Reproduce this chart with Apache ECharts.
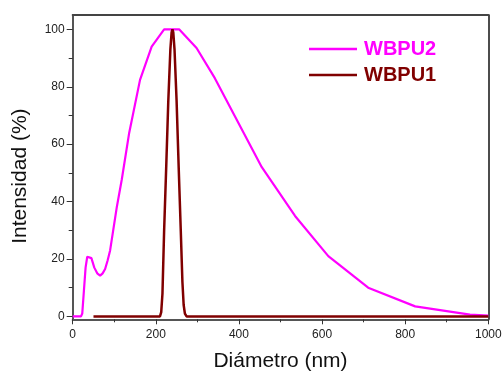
<!DOCTYPE html>
<html>
<head>
<meta charset="utf-8">
<script src="https://cdn.jsdelivr.net/npm/echarts@6/dist/echarts.min.js"></script>
<style>
  html, body { margin: 0; padding: 0; background: #fff; }
  #chart { width: 502px; height: 371px; }
</style>
</head>
<body>
<div id="chart"></div>
<script>
// Particle size distribution (intensity vs. diameter)
const diamWBPU2 = [0, 20, 23, 27, 31, 35, 39, 45, 52, 59, 66, 72, 78, 84, 90, 98, 106, 118, 136, 162, 190, 220, 256, 298, 342, 455, 535, 615, 711, 824, 956, 1000];
const intWBPU2  = [0, 0, 1, 9, 17, 20.8, 21.2, 20.3, 17, 15, 14.2, 15, 16.5, 19.5, 23, 30.5, 38, 47.6, 64, 82.4, 94, 100, 100, 93.5, 83, 52, 35, 21, 10, 3.5, 0.6, 0.3];

const diamWBPU1 = [50, 210, 213, 216, 220, 225, 230, 235, 238, 240, 242, 245, 250, 255, 260, 264, 267, 270, 274, 1000];
const intWBPU1  = [0, 0, 1.5, 8, 30, 52, 75, 93, 99, 100, 99, 93, 75, 52, 30, 12, 4, 1, 0, 0];

const xTicks = [0, 200, 400, 600, 800, 1000];
const yTicks = [0, 20, 40, 60, 80, 100];
const yMinorTicks = [10, 30, 50, 70, 90];

const COLOR_WBPU2 = '#ff00ff';
const COLOR_WBPU1 = '#800000';

const pairs = (xs, ys) => xs.map((x, i) => [x, ys[i]]);

const FONT = 'Liberation Sans, Arial, Helvetica, sans-serif';
const chart = echarts.init(document.getElementById('chart'), null, { renderer: 'canvas' });

chart.setOption({
  animation: false,
  backgroundColor: '#ffffff',
  grid: { left: 72.7, right: 13.7, top: 15, bottom: 51.7, containLabel: false, outerBoundsMode: 'none' },
  legend: {
    data: [
      { name: 'WBPU2', textStyle: { color: COLOR_WBPU2 } },
      { name: 'WBPU1', textStyle: { color: COLOR_WBPU1 } }
    ],
    orient: 'vertical',
    left: 309,
    top: 39,
    padding: 0,
    icon: 'rect',
    itemWidth: 48,
    itemHeight: 2.5,
    itemGap: 6,
    textStyle: { fontFamily: FONT, fontSize: 20, fontWeight: 'bold', lineHeight: 20, padding: [0, 0, 0, 2] },
    selectedMode: false
  },
  xAxis: [
    {
      type: 'value', min: 0, max: 1000, interval: 200,
      name: 'Diámetro (nm)', nameLocation: 'middle', nameGap: 31,
      nameTextStyle: { fontFamily: FONT, fontSize: 21, color: '#111' },
      axisLine: { show: true, onZero: false, lineStyle: { color: '#555', width: 2 } },
      axisTick: { show: true, length: 5, lineStyle: { color: '#333', width: 1 } },
      minorTick: { show: true, splitNumber: 2, length: 3, lineStyle: { color: '#333', width: 1 } },
      axisLabel: { fontFamily: FONT, fontSize: 12, color: '#222', margin: 9,
        customValues: xTicks, formatter: v => String(v) },
      splitLine: { show: false }
    },
    {
      type: 'value', min: 0, max: 1000, position: 'top',
      axisLine: { show: true, onZero: false, lineStyle: { color: '#444', width: 2 } },
      axisTick: { show: false }, axisLabel: { show: false }, splitLine: { show: false }
    }
  ],
  yAxis: [
    {
      type: 'value', min: -1, max: 105,
      name: 'Intensidad (%)', nameLocation: 'middle', nameGap: 42,
      // right padding nudges the rotated title a little lower along the axis
      nameTextStyle: { fontFamily: FONT, fontSize: 21, color: '#111', padding: [0, 18, 0, 0] },
      axisLine: { show: true, onZero: false, lineStyle: { color: '#555', width: 2 } },
      axisTick: { show: true, length: 6, customValues: yTicks, lineStyle: { color: '#333', width: 1 } },
      axisLabel: { fontFamily: FONT, fontSize: 12, color: '#222', margin: 8, customValues: yTicks,
        formatter: v => String(v) },
      splitLine: { show: false }
    },
    {
      type: 'value', min: -1, max: 105, position: 'left',
      axisLine: { show: false, onZero: false },
      axisTick: { show: true, length: 4, customValues: yMinorTicks, lineStyle: { color: '#333', width: 1 } },
      axisLabel: { show: false }, splitLine: { show: false }
    },
    {
      type: 'value', min: -1, max: 105, position: 'right',
      axisLine: { show: true, onZero: false, lineStyle: { color: '#111', width: 1.5 } },
      axisTick: { show: false }, axisLabel: { show: false }, splitLine: { show: false }
    }
  ],
  series: [
    {
      name: 'WBPU2', type: 'line', xAxisIndex: 0, yAxisIndex: 0,
      data: pairs(diamWBPU2, intWBPU2),
      showSymbol: false, symbol: 'none',
      color: COLOR_WBPU2,
      lineStyle: { color: COLOR_WBPU2, width: 2.2 },
      z: 2
    },
    {
      name: 'WBPU1', type: 'line', xAxisIndex: 0, yAxisIndex: 0,
      data: pairs(diamWBPU1, intWBPU1),
      showSymbol: false, symbol: 'none',
      color: COLOR_WBPU1,
      lineStyle: { color: COLOR_WBPU1, width: 2.5 },
      z: 3
    }
  ]
});
</script>
</body>
</html>
